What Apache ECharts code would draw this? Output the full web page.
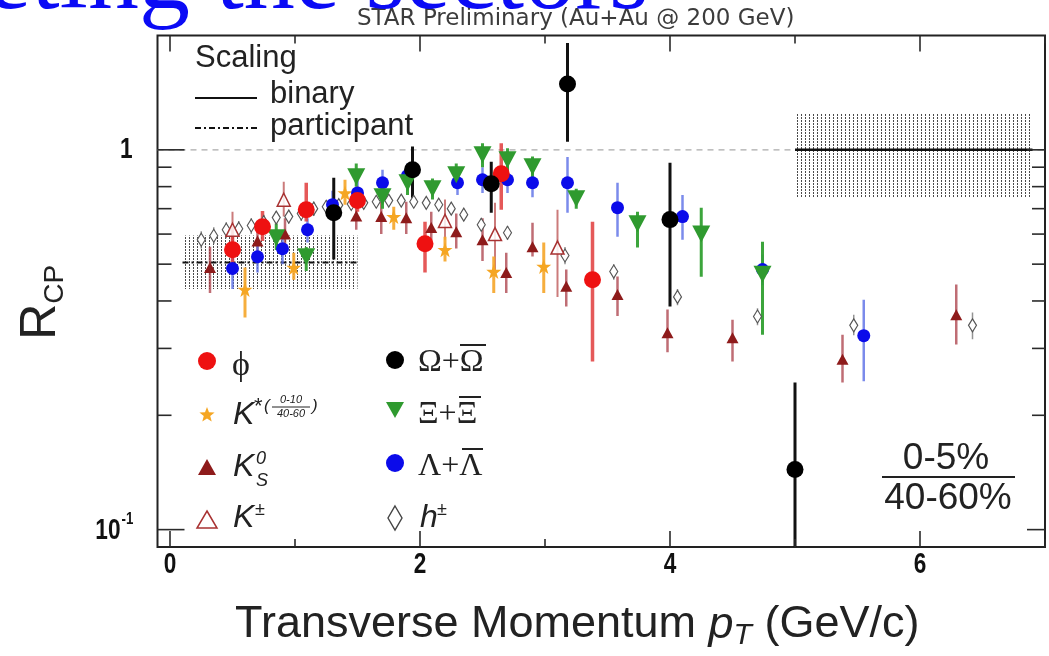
<!DOCTYPE html>
<html>
<head>
<meta charset="utf-8">
<script src="https://cdn.jsdelivr.net/npm/echarts@6/dist/echarts.min.js"></script>
<style>
  html, body { margin: 0; padding: 0; background: #fff; }
  #chart { width: 1049px; height: 656px; }
</style>
</head>
<body>
<div id="chart"></div>
<script>
// R_CP (0-5% / 40-60%) versus transverse momentum, Au+Au at 200 GeV.
// Each point: [pT (GeV/c), R_CP, lower end of error bar, upper end of error bar]
const phiData = [
  [0.50, 0.546, 0.47, 0.63],
  [0.74, 0.627, 0.575, 0.69],
  [1.09, 0.695, 0.648, 0.819],
  [1.50, 0.735, 0.687, 0.80],
  [2.04, 0.566, 0.475, 0.647],
  [2.65, 0.865, 0.695, 1.04],
  [3.38, 0.455, 0.277, 0.647]
];
const kstarData = [
  [0.60, 0.429, 0.362, 0.49],
  [0.99, 0.49, 0.455, 0.536],
  [1.40, 0.77, 0.717, 0.834],
  [1.79, 0.667, 0.616, 0.708],
  [2.20, 0.546, 0.508, 0.59],
  [2.59, 0.478, 0.42, 0.524],
  [2.99, 0.493, 0.42, 0.57]
];
const k0sData = [
  [0.32, 0.49, 0.42, 0.556],
  [0.70, 0.575, 0.52, 0.63],
  [0.92, 0.60, 0.56, 0.66],
  [1.49, 0.67, 0.616, 0.73],
  [1.69, 0.667, 0.60, 0.73],
  [1.89, 0.662, 0.60, 0.73],
  [2.09, 0.624, 0.58, 0.687],
  [2.29, 0.609, 0.55, 0.68],
  [2.50, 0.58, 0.51, 0.66],
  [2.69, 0.475, 0.42, 0.536],
  [2.90, 0.556, 0.524, 0.643],
  [3.17, 0.437, 0.387, 0.484],
  [3.58, 0.416, 0.365, 0.464],
  [3.98, 0.33, 0.293, 0.38],
  [4.50, 0.32, 0.277, 0.357],
  [5.38, 0.281, 0.244, 0.326],
  [6.29, 0.368, 0.307, 0.442]
];
const kchData = [
  [0.50, 0.616, 0.556, 0.687],
  [0.91, 0.739, 0.667, 0.824],
  [2.20, 0.65, 0.58, 0.74],
  [2.60, 0.60, 0.475, 0.726],
  [3.10, 0.553, 0.41, 0.695]
];
const omegaData = [
  [1.31, 0.683, 0.514, 0.844],
  [1.94, 0.886, 0.748, 1.02],
  [2.57, 0.814, 0.683, 0.93],
  [3.18, 1.49, 1.05, 1.91],
  [4.00, 0.655, 0.387, 0.924],
  [5.00, 0.144, 0.05, 0.244]
];
const xiData = [
  [0.85, 0.587, 0.545, 0.64],
  [1.09, 0.523, 0.48, 0.555],
  [1.49, 0.849, 0.80, 0.92],
  [1.70, 0.752, 0.70, 0.80],
  [1.90, 0.819, 0.76, 0.88],
  [2.10, 0.79, 0.74, 0.84],
  [2.29, 0.86, 0.80, 0.92],
  [2.50, 0.97, 0.90, 1.04],
  [2.70, 0.941, 0.87, 1.01],
  [2.90, 0.902, 0.84, 0.96],
  [3.25, 0.743, 0.70, 0.79],
  [3.74, 0.639, 0.553, 0.687],
  [4.25, 0.60, 0.463, 0.704],
  [4.74, 0.47, 0.326, 0.573]
];
const lambdaData = [
  [0.50, 0.487, 0.43, 0.55],
  [0.70, 0.523, 0.475, 0.57],
  [0.90, 0.549, 0.50, 0.60],
  [1.10, 0.616, 0.57, 0.66],
  [1.30, 0.717, 0.66, 0.78],
  [1.50, 0.77, 0.71, 0.83],
  [1.70, 0.819, 0.752, 0.886],
  [1.90, 0.855, 0.79, 0.92],
  [2.30, 0.819, 0.76, 0.88],
  [2.50, 0.834, 0.77, 0.90],
  [2.70, 0.834, 0.77, 0.90],
  [2.90, 0.819, 0.75, 0.89],
  [3.18, 0.819, 0.683, 0.958],
  [3.58, 0.704, 0.59, 0.819],
  [4.10, 0.667, 0.58, 0.76],
  [4.74, 0.484, 0.44, 0.53],
  [5.55, 0.324, 0.246, 0.403]
];
const hData = [
  [0.25, 0.58, 0.55, 0.61], [0.35, 0.594, 0.565, 0.625], [0.45, 0.616, 0.585, 0.645],
  [0.55, 0.62, 0.59, 0.65], [0.65, 0.632, 0.60, 0.66], [0.75, 0.645, 0.615, 0.675],
  [0.85, 0.663, 0.635, 0.69], [0.95, 0.667, 0.64, 0.695], [1.05, 0.68, 0.65, 0.71],
  [1.15, 0.70, 0.67, 0.73], [1.25, 0.708, 0.68, 0.735], [1.35, 0.715, 0.69, 0.74],
  [1.45, 0.72, 0.695, 0.745], [1.55, 0.725, 0.70, 0.75], [1.65, 0.73, 0.705, 0.755],
  [1.75, 0.735, 0.71, 0.76], [1.85, 0.735, 0.71, 0.76], [1.95, 0.73, 0.705, 0.755],
  [2.05, 0.725, 0.70, 0.75], [2.15, 0.717, 0.69, 0.745], [2.25, 0.70, 0.675, 0.725],
  [2.35, 0.675, 0.65, 0.70], [2.49, 0.635, 0.61, 0.66], [2.70, 0.605, 0.58, 0.63],
  [3.16, 0.527, 0.50, 0.555], [3.55, 0.478, 0.455, 0.50], [4.06, 0.41, 0.39, 0.43],
  [4.70, 0.364, 0.345, 0.383], [5.47, 0.345, 0.325, 0.368], [6.42, 0.345, 0.317, 0.373]
];

// Scaling expectations with their uncertainty bands: [pT from, pT to, level, band low, band high]
const binaryBand = [5.0, 6.9, 1.0, 0.75, 1.25];
const participantBand = [0.1, 1.5, 0.505, 0.43, 0.595];

// Axis ranges and ticks
const xRange = [-0.1, 7.0];
const yRange = [0.09, 2.0];
const xMajorTicks = [0, 2, 4, 6];
const xMinorTicks = [1, 3, 5, 7];
const xTickLabels = ['0', '2', '4', '6'];
const yMajorTicks = [0.1, 1];
const yMinorTicks = [0.2, 0.3, 0.4, 0.5, 0.6, 0.7, 0.8, 0.9];

const INK = '#222';
const SANS = '"Liberation Sans", Arial, sans-serif';
const SERIF = '"Liberation Serif", "Times New Roman", serif';

// Dotted fill used by the scaling bands
function dotPattern() {
  const c = document.createElement('canvas');
  c.width = 4; c.height = 3;
  const g = c.getContext('2d');
  g.fillStyle = '#4a4a4a';
  g.fillRect(1, 0, 1, 2);
  return c;
}
const bandFill = { image: dotPattern(), repeat: 'repeat' };

function errorBars(name, data, color, width) {
  return {
    type: 'custom', name: name + ' err', data: data, z: 3, silent: true, clip: true,
    encode: { x: 0, y: 1 },
    renderItem(params, api) {
      const x = api.value(0);
      const top = api.coord([x, api.value(3)]);
      const bot = api.coord([x, api.value(2)]);
      return {
        type: 'line',
        shape: { x1: top[0], y1: top[1], x2: bot[0], y2: bot[1] },
        style: { stroke: color, lineWidth: width }
      };
    }
  };
}

function markers(name, data, symbol, size, itemStyle) {
  return {
    type: 'scatter', name: name, z: 4, symbol: symbol, symbolSize: size,
    data: data.map(d => [d[0], d[1]]),
    itemStyle: Object.assign({ opacity: 1 }, itemStyle),
    emphasis: { disabled: true }
  };
}

const STAR = 'path://M50,0 L61.8,35.1 L97.6,35.1 L68.8,56.7 L79.4,91 L50,70 L20.6,91 L31.2,56.7 L2.4,35.1 L38.2,35.1 Z';
const DOWN_TRI = 'path://M0,0 L100,0 L50,92 Z';

// Frame ticks on all four sides plus tick labels
const frameSeries = {
  type: 'custom', data: [[0, 1]], z: 10, silent: true, clip: false,
  renderItem(params, api) {
    const cs = params.coordSys;
    const left = cs.x, right = cs.x + cs.width, top = cs.y, bottom = cs.y + cs.height;
    const kids = [];
    const seg = (x1, y1, x2, y2) => kids.push({
      type: 'line', shape: { x1, y1, x2, y2 }, style: { stroke: '#2a2a2a', lineWidth: 1.6 }
    });
    xMajorTicks.forEach(v => { const px = api.coord([v, 1])[0]; seg(px, bottom, px, bottom - 16); seg(px, top, px, top + 16); });
    xMinorTicks.forEach(v => { const px = api.coord([v, 1])[0]; seg(px, bottom, px, bottom - 8); seg(px, top, px, top + 8); });
    yMajorTicks.forEach(v => { const py = api.coord([0, v])[1]; seg(left, py, left + 27, py); seg(right, py, right - 18, py); });
    yMinorTicks.forEach(v => { const py = api.coord([0, v])[1]; seg(left, py, left + 14, py); seg(right, py, right - 13, py); });

    const label = (text, x, y, align, font) => kids.push({
      type: 'text', x: x, y: y, scaleX: 0.78,
      style: { text: text, x: 0, y: 0, align: align, verticalAlign: 'middle', font: font, fill: '#111' }
    });
    xMajorTicks.forEach((v, i) => label(xTickLabels[i], api.coord([v, 1])[0], bottom + 18, 'center', 'bold 29px ' + SANS));
    const y1 = api.coord([0, 1])[1], y01 = api.coord([0, 0.1])[1];
    label('1', left - 25, y1, 'right', 'bold 29px ' + SANS);
    label('10', left - 37, y01 + 1, 'right', 'bold 29px ' + SANS);
    label('-1', left - 36, y01 - 10, 'left', 'bold 17px ' + SANS);
    return { type: 'group', children: kids };
  }
};

const bandSeries = {
  type: 'custom', data: [binaryBand, participantBand], z: 2, silent: true,
  encode: { x: 0, y: 2 },
  renderItem(params, api) {
    const x0 = api.value(0), x1 = api.value(1), lv = api.value(2);
    const p0 = api.coord([x0, api.value(4)]);
    const p1 = api.coord([x1, api.value(3)]);
    const a = api.coord([x0, lv]), b = api.coord([x1, lv]);
    const dashed = params.dataIndex === 1;
    return {
      type: 'group',
      children: [
        { type: 'rect', shape: { x: p0[0], y: p0[1], width: p1[0] - p0[0], height: p1[1] - p0[1] }, style: { fill: bandFill } },
        { type: 'line', shape: { x1: a[0], y1: a[1], x2: b[0], y2: b[1] },
          style: { stroke: '#111', lineWidth: dashed ? 2 : 2.5, lineDash: dashed ? [6, 3, 2, 3] : null } }
      ]
    };
  }
};

const unityLine = {
  type: 'line', data: [[xRange[0], 1], [xRange[1], 1]], symbol: 'none', z: 1, silent: true,
  lineStyle: { color: '#aaa', width: 1.2, type: [6, 5] }
};

// Legend key shapes
function starPoints(cx, cy, R, r) {
  const pts = [];
  for (let i = 0; i < 10; i++) {
    const rad = i % 2 === 0 ? R : r;
    const ang = -Math.PI / 2 + i * Math.PI / 5;
    pts.push([cx + rad * Math.cos(ang), cy + rad * Math.sin(ang)]);
  }
  return pts;
}
const txt = (text, x, y, font, extra) => ({
  type: 'text', x: x, y: y, z: 50,
  style: Object.assign({ text: text, font: font, fill: INK, align: 'left', verticalAlign: 'middle' }, extra || {})
});
const bar = (x1, x2, y, w) => ({ type: 'line', z: 50, shape: { x1: x1, y1: y, x2: x2, y2: y }, style: { stroke: INK, lineWidth: w || 2 } });

const graphic = [
  // scaling key
  txt('Scaling', 195, 58, '31px ' + SANS),
  { type: 'line', z: 50, shape: { x1: 195, y1: 98, x2: 257, y2: 98 }, style: { stroke: '#111', lineWidth: 2 } },
  txt('binary', 270, 94, '31px ' + SANS),
  { type: 'line', z: 50, shape: { x1: 195, y1: 128, x2: 257, y2: 128 }, style: { stroke: '#111', lineWidth: 2, lineDash: [6, 3, 2, 3] } },
  txt('participant', 270, 126, '31px ' + SANS),

  // species key, left column
  { type: 'circle', z: 50, shape: { cx: 207, cy: 361, r: 9 }, style: { fill: '#ee1111' } },
  txt('\u03d5', 232, 366, '34px ' + SERIF),
  { type: 'polygon', z: 50, shape: { points: starPoints(207, 415, 8, 3.4) }, style: { fill: '#f5a623' } },
  txt('K', 233, 415, 'italic 32px ' + SANS),
  txt('*', 254, 407, '22px ' + SANS),
  txt('(', 264, 406, 'italic 17px ' + SANS),
  txt('0-10', 291, 400, 'italic 11px ' + SANS, { align: 'center' }),
  bar(272, 310, 407, 1),
  txt('40-60', 291, 414, 'italic 11px ' + SANS, { align: 'center' }),
  txt(')', 312, 406, 'italic 17px ' + SANS),
  { type: 'polygon', z: 50, shape: { points: [[207, 459], [216, 475], [198, 475]] }, style: { fill: '#8e1b1b' } },
  txt('K', 233, 467, 'italic 32px ' + SANS),
  txt('0', 256, 459, 'italic 18px ' + SANS),
  txt('S', 256, 481, 'italic 18px ' + SANS),
  { type: 'polygon', z: 50, shape: { points: [[207, 511], [217, 528], [197, 528]] }, style: { fill: '#fff', stroke: '#a83232', lineWidth: 1.5 } },
  txt('K', 233, 518, 'italic 32px ' + SANS),
  txt('\u00b1', 255, 510, '18px ' + SANS),

  // species key, right column
  { type: 'circle', z: 50, shape: { cx: 395, cy: 360, r: 9 }, style: { fill: '#000' } },
  txt('\u03a9+\u03a9', 418, 363, '32px ' + SERIF),
  bar(460, 486, 345, 2),
  { type: 'polygon', z: 50, shape: { points: [[386, 402], [404, 402], [395, 418]] }, style: { fill: '#2f9a2f' } },
  txt('\u039e+\u039e', 418, 415, '32px ' + SERIF),
  bar(459, 481, 397, 2),
  { type: 'circle', z: 50, shape: { cx: 395, cy: 463, r: 9 }, style: { fill: '#0b0bea' } },
  txt('\u039b+\u039b', 418, 467, '32px ' + SERIF),
  bar(462, 483, 449, 2),
  { type: 'polygon', z: 50, shape: { points: [[395, 506], [402, 518], [395, 530], [388, 518]] }, style: { fill: '#fff', stroke: '#444', lineWidth: 1.4 } },
  txt('h', 420, 518, 'italic 32px ' + SANS),
  txt('\u00b1', 437, 510, '18px ' + SANS),

  // centrality ratio annotation
  txt('0-5%', 946, 459, '37px ' + SANS, { align: 'center' }),
  bar(882, 1015, 477, 2),
  txt('40-60%', 948, 499, '37px ' + SANS, { align: 'center' }),

  // slide heading fragment running across the top edge
  { type: 'text', x: -14, y: -19, z: 100,
    style: { text: 'eting the sectors', font: '102px ' + SERIF, fill: '#0b0bf5', align: 'left', verticalAlign: 'middle' } }
];

const option = {
  animation: false,
  backgroundColor: '#fff',
  title: {
    text: 'STAR Preliminary (Au+Au @ 200 GeV)',
    left: 357, top: 8, padding: 0,
    textStyle: { fontSize: 23, fontWeight: 'normal', color: '#3c3c3c', fontFamily: '"DejaVu Sans", sans-serif' }
  },
  grid: { left: 157.5, right: 4, top: 35.5, bottom: 108, show: true, borderColor: '#222', borderWidth: 2, backgroundColor: 'transparent' },
  xAxis: {
    type: 'value', min: xRange[0], max: xRange[1],
    axisLine: { show: false }, axisTick: { show: false }, axisLabel: { show: false }, splitLine: { show: false },
    name: '{a|Transverse Momentum }{p|p}{t|T}{a| (GeV/c)}',
    nameLocation: 'middle', nameGap: 52,
    nameTextStyle: {
      padding: [0, 48, 0, 0],
      rich: {
        a: { fontSize: 45, fontFamily: SANS, color: INK, lineHeight: 52 },
        p: { fontSize: 45, fontFamily: SANS, fontStyle: 'italic', color: INK, lineHeight: 52 },
        t: { fontSize: 30, fontFamily: SANS, fontStyle: 'italic', color: INK, lineHeight: 24, verticalAlign: 'bottom' }
      }
    }
  },
  yAxis: {
    type: 'log', logBase: 10, min: yRange[0], max: yRange[1],
    axisLine: { show: false }, axisTick: { show: false }, axisLabel: { show: false }, splitLine: { show: false },
    name: '{r|R}{c|CP}',
    nameLocation: 'middle', nameRotate: 90, nameGap: 88,
    nameTextStyle: {
      padding: [0, 22, 0, 0],
      rich: {
        r: { fontSize: 50, fontFamily: SANS, color: INK, lineHeight: 56 },
        c: { fontSize: 28, fontFamily: SANS, color: INK, lineHeight: 30, verticalAlign: 'bottom' }
      }
    }
  },
  graphic: graphic,
  series: [
    unityLine,
    bandSeries,
    errorBars('h', hData, 'rgba(120,120,120,0.8)', 1.5),
    markers('h\u00b1', hData, 'diamond', [8, 13], { color: '#fff', borderColor: '#555', borderWidth: 1.2 }),
    errorBars('Kch', kchData, 'rgba(190,90,90,0.8)', 2),
    markers('K\u00b1', kchData, 'triangle', [13, 13], { color: 'rgba(255,255,255,0.85)', borderColor: '#a83232', borderWidth: 1.5 }),
    errorBars('K0S', k0sData, 'rgba(170,60,70,0.75)', 2.5),
    markers('K0S', k0sData, 'triangle', [12, 11], { color: '#8e1b1b' }),
    errorBars('Kstar', kstarData, 'rgba(245,165,40,0.9)', 3),
    markers('K*', kstarData, STAR, 15, { color: '#f5a623' }),
    errorBars('Lambda', lambdaData, 'rgba(90,110,230,0.8)', 2.5),
    markers('\u039b', lambdaData, 'circle', 13, { color: '#0b0bea' }),
    errorBars('Xi', xiData, 'rgba(50,160,50,0.95)', 3),
    markers('\u039e', xiData, DOWN_TRI, [18, 17], { color: '#2f9a2f' }),
    errorBars('phi', phiData, 'rgba(225,60,60,0.85)', 3.5),
    markers('\u03c6', phiData, 'circle', 17, { color: '#ee1111' }),
    errorBars('Omega', omegaData, '#111', 3),
    markers('\u03a9', omegaData, 'circle', 17, { color: '#000' }),
    frameSeries
  ]
};

const chart = echarts.init(document.getElementById('chart'));
chart.setOption(option);
</script>
</body>
</html>
